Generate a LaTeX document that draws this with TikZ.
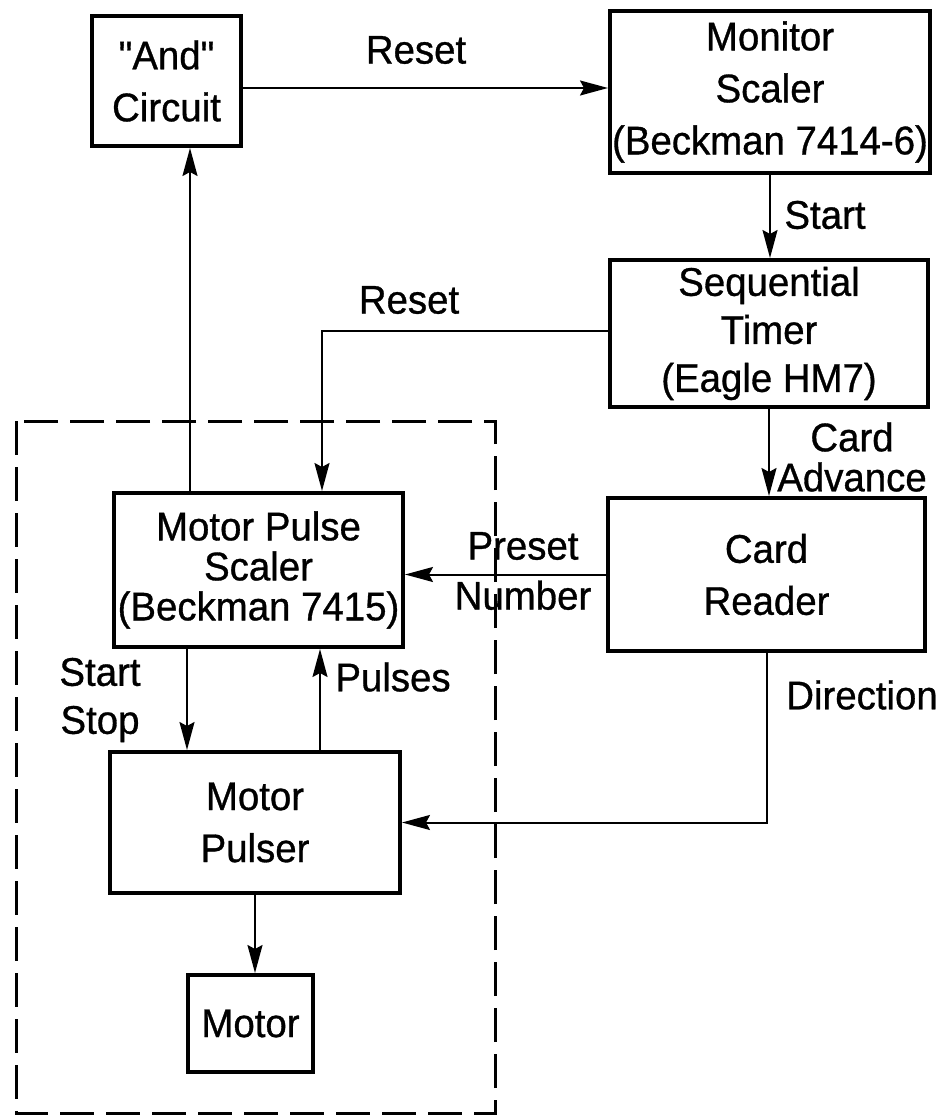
\documentclass[tikz,border=0pt]{standalone}
\usepackage{fontspec}
\setmainfont{Liberation Sans}[FakeStretch=0.96, FakeBold=0.8, Ligatures=TeXOff]
\usetikzlibrary{arrows.meta}

\begin{document}
        \begin{tikzpicture}[x=0.5pt, y=-0.5pt,
            every node/.style={font=\fontsize{20}{26}\selectfont},
            block/.style={draw, line width=2pt, align=center, inner sep=0pt},
            lbl/.style={align=center, inner sep=0pt},
            conn/.style={line width=1pt, -{Stealth[length=14pt, width=7.5pt, inset=2pt]}},
            frame/.style={line width=1.5pt, dash pattern=on 17pt off 6pt}]
            \useasboundingbox (0,0) rectangle (943,1117);
            \node[block, minimum width=74.5pt, minimum height=65pt] (andc) at (166.5,81) {"And"\\Circuit};
            \node[block, minimum width=160pt, minimum height=81pt] (monitor) at (770,92) {Monitor\\Scaler\\(Beckman 7414-6)};
            \node[block, minimum width=159pt, minimum height=73.5pt, font=\fontsize{20}{24}\selectfont] (timer) at (769,333.5) {Sequential\\Timer\\(Eagle HM7)};
            \node[block, minimum width=158.5pt, minimum height=76.5pt] (reader) at (766.5,574.5) {Card\\Reader};
            \node[block, minimum width=144.5pt, minimum height=77pt, font=\fontsize{20}{20}\selectfont] (mps) at (258.5,570) {Motor Pulse\\Scaler\\(Beckman 7415)};
            \node[block, minimum width=145pt, minimum height=70.5pt] (pulser) at (255,822.5) {Motor\\Pulser};
            \node[block, minimum width=62.5pt, minimum height=48.5pt] (motor) at (250.5,1023.5) {Motor};
            \coordinate (rst) at (322,331);
            \draw[frame] (16,421) rectangle (495,1113);
            \draw[conn] (andc.east |- 0,88) -- (monitor.west |- 0,88);
            \draw[conn] (monitor.south) -- (monitor.south |- timer.north);
            \draw[conn] (timer.west |- rst) -- (rst) -- (rst |- mps.north);
            \draw[conn] (timer.south) -- (timer.south |- reader.north);
            \draw[conn] (reader.west) -- (reader.west -| mps.east);
            \draw[conn] (reader.south) |- (pulser.east);
            \draw[conn] (mps.south -| 187,0) -- (pulser.north -| 187,0);
            \draw[conn] (pulser.north -| 320,0) -- (mps.south -| 320,0);
            \draw[conn] (mps.north -| 190,0) -- (andc.south -| 190,0);
            \draw[conn] (pulser.south) -- (pulser.south |- motor.north);
            \node[lbl] (lreset) at (416,50) {Reset};
            \node[lbl] (lstart) at (825,215) {Start};
            \node[lbl] (lreset2) at (409,300) {Reset};
            \node[lbl, font=\fontsize{20}{20}\selectfont] (ladvance) at (852,457) {Card\\Advance};
            \node[lbl, font=\fontsize{20}{25}\selectfont] (lpreset) at (523,571) {Preset\\Number};
            \node[lbl] (ldirection) at (862,695) {Direction};
            \node[lbl, font=\fontsize{20}{24}\selectfont] (lstartstop) at (100,700) {Start\\Stop};
            \node[lbl] (lpulses) at (393,677) {Pulses};
        \end{tikzpicture}
\end{document}
